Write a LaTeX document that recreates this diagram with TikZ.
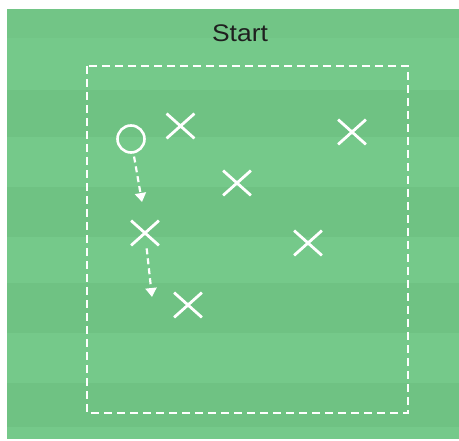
\documentclass[tikz,border=0pt]{standalone}
\usepackage{fontspec}
\setmainfont{Liberation Sans}
\usetikzlibrary{shapes.misc,arrows.meta}
\definecolor{fieldlight}{RGB}{117,201,138}
\definecolor{fielddark}{RGB}{111,194,131}
\definecolor{fieldmid}{RGB}{114,197,134}
\tikzset{
  player/.style={cross out, draw=white, line width=2.8pt, minimum width=25pt, minimum height=22pt, inner sep=0pt},
  ball/.style={circle, draw=white, line width=2.6pt, minimum size=27pt, inner sep=0pt},
  run/.style={draw=white, line width=2.2pt, dash pattern=on 6pt off 4pt, -{Triangle[width=11pt,length=9pt]}, shorten <=3pt},
  area/.style={draw=white, line width=2.2pt, dash pattern=on 8pt off 5pt},
}
\begin{document}
\begin{tikzpicture}[x=1pt,y=-1pt]
\useasboundingbox (0,0) rectangle (459,441);
% field
\fill[fieldlight] (7,9) rectangle (459,439);
\fill[fieldmid] (7,9) rectangle (459,38);
\foreach \a/\b in {90/137,187/237,283/333,383/427}{
  \fill[fielddark] (7,\a) rectangle (459,\b);
}
% dashed area
\draw[area] (87,66) rectangle (408,413);
% title
\node[font=\fontsize{24}{24}\selectfont, text=black!88, xscale=1.1] (start) at (240,33) {Start};
% players
\node[ball] (o) at (131,139) {};
\node[player] (x1) at (180.5,126) {};
\node[player] (x2) at (352,132) {};
\node[player] (x3) at (237,183) {};
\node[player] (x4) at (145,233) {};
\node[player] (x5) at (308,243) {};
\node[player] (x6) at (188,305) {};
% runs
\coordinate (t1) at (142,202);
\coordinate (t2) at (152,297);
\draw[run] (o) -- (t1);
\draw[run] (x4) -- (t2);
\end{tikzpicture}
\end{document}
